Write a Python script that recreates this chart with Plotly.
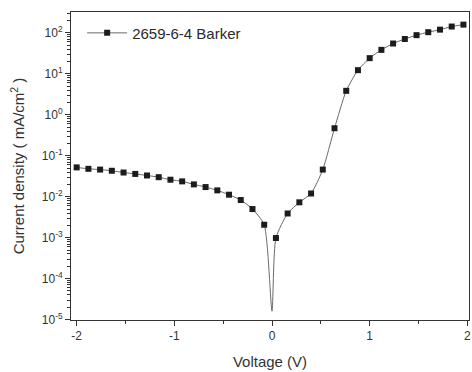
import plotly.graph_objects as go

# Measured J-V sweep (marker points, 0.12 V step)
voltage = [-2.00, -1.88, -1.76, -1.64, -1.52, -1.40, -1.28, -1.16, -1.04, -0.92,
           -0.80, -0.68, -0.56, -0.44, -0.32, -0.20, -0.08,
           0.04, 0.16, 0.28, 0.40, 0.52, 0.64, 0.76, 0.88, 1.00,
           1.12, 1.24, 1.36, 1.48, 1.60, 1.72, 1.84, 1.96]
current = [0.052, 0.048, 0.046, 0.043, 0.039, 0.036, 0.033, 0.030, 0.026, 0.0237,
           0.020, 0.0172, 0.0143, 0.0112, 0.0083, 0.0050, 0.00207,
           0.00098, 0.0039, 0.0073, 0.012, 0.046, 0.47, 3.85, 12.3, 24.2,
           38.5, 55, 71, 88, 104, 120, 143, 159]

# Zero-bias reading (shown by the connecting line only)
v_zero = 0.0
j_zero = 1.6e-5

series_name = "2659-6-4 Barker"

x_ticks = [-2, -1, 0, 1, 2]
x_tick_labels = ["-2", "-1", "0", "1", "2"]
y_exponents = [-5, -4, -3, -2, -1, 0, 1, 2]

# Line trace includes the zero-bias point
line_x = voltage[:17] + [v_zero] + voltage[17:]
line_y = current[:17] + [j_zero] + current[17:]

LINE_COLOR = "#6a6a6a"
MARK_COLOR = "#1c1c1c"
AXIS_COLOR = "#333333"
FONT = "Liberation Sans, Arial, sans-serif"

fig = go.Figure()
fig.add_trace(go.Scatter(
    x=line_x, y=line_y, mode="lines",
    line=dict(color=LINE_COLOR, width=1, shape="spline", smoothing=0.6),
    showlegend=False, hoverinfo="skip"))
fig.add_trace(go.Scatter(
    x=voltage, y=current, mode="markers",
    marker=dict(symbol="square", size=6, color=MARK_COLOR),
    showlegend=False))
# Legend entry: line with square marker
fig.add_trace(go.Scatter(
    x=[None], y=[None], mode="lines+markers", name=series_name,
    line=dict(color=LINE_COLOR, width=1),
    marker=dict(symbol="square", size=6, color=MARK_COLOR)))

fig.update_layout(
    width=472, height=372,
    margin=dict(l=71, r=1, t=12, b=52),
    paper_bgcolor="white", plot_bgcolor="white",
    font=dict(family=FONT, color=AXIS_COLOR, size=12),
    showlegend=True,
    legend=dict(x=0.028, y=0.985, xanchor="left", yanchor="top",
                bgcolor="rgba(0,0,0,0)", font=dict(size=15, color="#2a2a2a"),
                itemwidth=40),
    xaxis=dict(
        range=[-2.058, 2.017],
        tickvals=x_ticks, ticktext=x_tick_labels,
        ticks="outside", ticklen=5, tickcolor=AXIS_COLOR, tickwidth=1,
        ticklabeloverflow="allow",
        minor=dict(tickvals=[-1.5, -0.5, 0.5, 1.5], ticks="outside",
                   ticklen=3, tickcolor=AXIS_COLOR),
        showline=True, linecolor=AXIS_COLOR, linewidth=1, mirror=True,
        showgrid=False, zeroline=False,
        tickfont=dict(size=12),
        title=dict(text="Voltage (V)", font=dict(size=15), standoff=14),
    ),
    yaxis=dict(
        type="log", range=[-5.01, 2.51],
        tickvals=[10.0 ** e for e in y_exponents],
        ticktext=["10<sup>%d</sup>" % e for e in y_exponents],
        ticks="outside", ticklen=5, tickcolor=AXIS_COLOR, tickwidth=1,
        minor=dict(ticks="outside", ticklen=3, tickcolor=AXIS_COLOR,
                   dtick="D1", showgrid=False),
        showline=True, linecolor=AXIS_COLOR, linewidth=1, mirror=True,
        showgrid=False, zeroline=False,
        tickfont=dict(size=12),
        title=dict(text="Current density ( mA/cm<sup>2</sup> )",
                   font=dict(size=15), standoff=13),
    ),
)

fig.write_html("out.html")
